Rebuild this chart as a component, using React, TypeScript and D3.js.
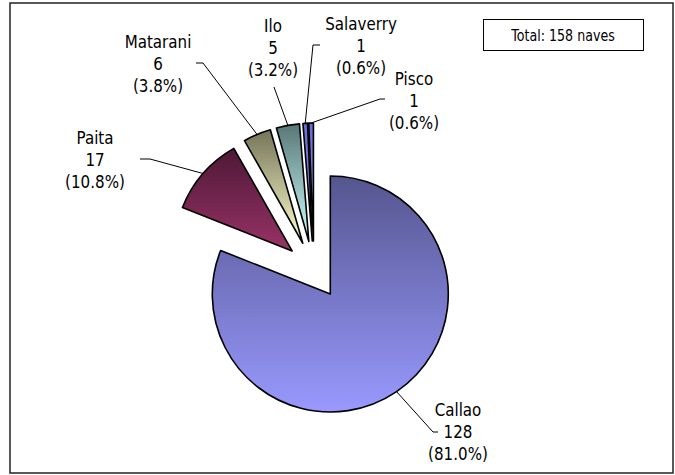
import React, { useRef, useEffect } from 'react';
import * as d3 from 'd3';

// chart data
const ports = ['Callao', 'Paita', 'Matarani', 'Ilo', 'Salaverry', 'Pisco'];
const ships = [128, 17, 6, 5, 1, 1];
const totalLabel = 'Total: 158 naves';

// slice colours (top of the gradient, bottom of the gradient)
const topColors = ['#55558f', '#4d1836', '#74745a', '#587676', '#6a6ad0', '#6a6ad0'];
const bottomColors = ['#9999ff', '#993366', '#ffffcc', '#ccffff', '#9999ff', '#9999ff'];

// label placement: centre x, centre y of first line, elbow and end of leader
const labelPos = [
  { x: 458, y: 409, elbow: [433, 432], end: [438, 432] },
  { x: 95, y: 137, elbow: [150, 159], end: [140, 159] },
  { x: 158, y: 41, elbow: [203, 63], end: [196, 63] },
  { x: 273, y: 25, elbow: [274, 87], end: [274, 87] },
  { x: 361, y: 23, elbow: [313, 45], end: [320, 45] },
  { x: 414, y: 78, elbow: [380, 99], end: [385, 99] },
];

function App() {
  const ref = useRef<SVGSVGElement | null>(null);

  useEffect(() => {
    const width = 675;
    const height = 475;
    const cx = 314;
    const cy = 270;
    const radius = 118;
    const explode = 29;
    const lineGap = 22;
    const font = 'DejaVu Sans, Verdana, sans-serif';

    const total = d3.sum(ships);
    const data = ports.map((name, i) => ({ name, value: ships[i], i }));

    const svg = d3.select(ref.current);
    svg.selectAll('*').remove();

    svg.append('rect')
      .attr('x', 0).attr('y', 0)
      .attr('width', width).attr('height', height)
      .attr('fill', '#fff');

    // frame
    svg.append('rect')
      .attr('x', 10).attr('y', 3)
      .attr('width', 663).attr('height', 470)
      .attr('fill', 'none')
      .attr('stroke', '#222')
      .attr('stroke-width', 1.5);

    const defs = svg.append('defs');
    data.forEach((d) => {
      const g = defs.append('linearGradient')
        .attr('id', `grad${d.i}`)
        .attr('x1', 0).attr('y1', 0)
        .attr('x2', 0).attr('y2', 1);
      g.append('stop').attr('offset', '0%').attr('stop-color', topColors[d.i]);
      g.append('stop').attr('offset', '100%').attr('stop-color', bottomColors[d.i]);
    });

    const pie = d3.pie<any>()
      .value((d) => d.value)
      .sort(null)
      .startAngle(0)
      .endAngle(Math.PI * 2);

    const arc = d3.arc<any>().innerRadius(0).outerRadius(radius);
    const arcs = pie(data);

    const offset = (a: any, r: number) => {
      const mid = (a.startAngle + a.endAngle) / 2;
      return [Math.sin(mid) * r, -Math.cos(mid) * r];
    };

    const pieG = svg.append('g').attr('transform', `translate(${cx},${cy})`);

    pieG.selectAll('.slice')
      .data(arcs)
      .enter()
      .append('path')
      .attr('class', 'slice')
      .attr('transform', (a) => {
        const [dx, dy] = offset(a, explode);
        return `translate(${dx},${dy})`;
      })
      .attr('d', (a) => arc(a))
      .attr('fill', (a) => `url(#grad${a.data.i})`)
      .attr('stroke', '#000')
      .attr('stroke-width', 1.6)
      .attr('stroke-linejoin', 'round');

    // leader lines
    arcs.forEach((a) => {
      const [ex, ey] = offset(a, explode);
      const [ox, oy] = offset(a, radius);
      const p = labelPos[a.data.i];
      const pts: [number, number][] = [
        [cx + ex + ox, cy + ey + oy],
        [p.elbow[0], p.elbow[1]],
        [p.end[0], p.end[1]],
      ];
      svg.append('path')
        .attr('d', d3.line()(pts))
        .attr('fill', 'none')
        .attr('stroke', '#000')
        .attr('stroke-width', 1);
    });

    // labels
    arcs.forEach((a) => {
      const d = a.data;
      const p = labelPos[d.i];
      const pct = ((d.value / total) * 100).toFixed(1);
      const lines = [d.name, String(d.value), `(${pct}%)`];
      lines.forEach((t, k) => {
        svg.append('text')
          .attr('transform', `translate(${p.x},${p.y + k * lineGap + 6.5}) scale(0.84,1)`)
          .attr('text-anchor', 'middle')
          .attr('font-family', font)
          .attr('font-size', 18)
          .attr('fill', '#000')
          .text(t);
      });
    });

    // total box
    svg.append('rect')
      .attr('x', 483.5).attr('y', 19.5)
      .attr('width', 160).attr('height', 31)
      .attr('fill', '#fff')
      .attr('stroke', '#000')
      .attr('stroke-width', 1);

    svg.append('text')
      .attr('transform', `translate(563,41) scale(0.79,1)`)
      .attr('text-anchor', 'middle')
      .attr('font-family', font)
      .attr('font-size', 16)
      .attr('fill', '#000')
      .text(totalLabel);
  }, []);

  return (
    <svg
      ref={ref}
      width={675}
      height={475}
      style={{ position: 'absolute', left: 0, top: 0 }}
    />
  );
}

export default App;
